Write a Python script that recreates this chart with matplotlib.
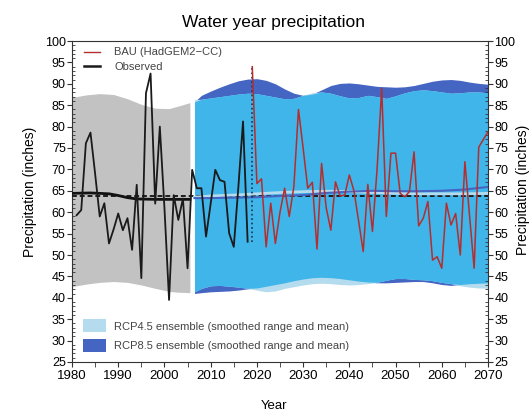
import matplotlib.pyplot as plt
from matplotlib.lines import Line2D
from matplotlib.patches import Patch
from matplotlib.ticker import MultipleLocator
import numpy as np

plt.rcParams['font.family'] = ['Liberation Sans', 'DejaVu Sans']

# Observed water year precipitation (inches)
obs_years = list(range(1981, 2019))
obs_precip = [59.3, 60.5, 76.1, 78.6, 69.0, 59.0, 62.1, 52.7, 56.0, 59.7,
              55.8, 58.6, 51.2, 66.4, 44.6, 87.8, 92.4, 62.0, 80.0, 61.0,
              39.5, 64.0, 58.2, 63.2, 46.9, 69.9, 65.6, 65.6, 54.3, 62.0,
              69.9, 67.5, 67.1, 55.1, 51.9, 66.0, 81.2, 53.1]

# Smoothed observed mean
obs_mean_years = [1980, 1984, 1988, 1990, 1992, 1994, 1998, 2002, 2005.5]
obs_mean = [64.4, 64.5, 64.3, 63.9, 63.4, 63.1, 63.0, 63.0, 63.0]

# Range over the historical period (gray band)
hist_years = [1980, 1983, 1986, 1989, 1992, 1995, 1998, 2001, 2003, 2005.5]
hist_upper = [86.8, 87.4, 87.7, 87.5, 86.5, 85.2, 84.3, 84.2, 84.8, 85.6]
hist_lower = [42.6, 43.2, 43.6, 43.8, 43.6, 43.0, 42.2, 41.5, 41.3, 41.2]

# BAU run (HadGEM2-CC)
bau_years = list(range(2019, 2071))
bau_precip = [94.0, 66.7, 67.8, 51.9, 62.1, 52.7, 60.0, 65.6, 59.0, 66.0, 84.0,
              75.0, 65.6, 67.0, 51.4, 71.4, 61.0, 55.8, 67.1, 63.8, 64.0,
              68.7, 65.0, 58.0, 50.8, 66.5, 55.5, 70.0, 88.9, 59.0, 73.8,
              73.8, 64.4, 63.6, 64.8, 74.1, 56.8, 58.6, 62.5, 48.8, 49.6,
              46.9, 62.1, 57.0, 59.7, 50.0, 71.8, 59.3, 46.9, 75.2, 77.0, 78.8]

# Ensemble ranges (smoothed)
proj_years = [2006.5] + list(range(2008, 2071, 2))
rcp85_upper = [85.8, 87.3, 88.3, 89.2, 90.0, 90.7, 91.1, 91.2, 90.8, 90.0, 88.8,
               87.8, 87.3, 87.6, 88.6, 89.6, 90.1, 90.2, 90.0, 89.7, 89.4,
               89.3, 89.2, 89.3, 89.6, 90.1, 90.6, 90.9, 91.0, 90.8, 90.4,
               90.1, 89.9]
rcp45_upper = [86.3, 86.4, 86.7, 87.0, 87.3, 87.6, 87.8, 87.7, 87.3, 86.9, 86.5,
               86.6, 87.3, 87.9, 88.1, 87.8, 87.2, 86.7, 86.8, 87.3, 87.0,
               86.6, 87.2, 87.9, 88.4, 88.6, 88.4, 88.1, 87.8, 87.9, 88.1,
               88.1, 87.9]
rcp85_lower = [41.0, 41.2, 41.4, 41.5, 41.6, 41.8, 42.1, 42.3, 42.7, 43.1, 43.5,
               44.0, 44.4, 44.7, 44.8, 44.7, 44.5, 44.2, 43.9, 43.7, 43.5,
               43.5, 43.6, 43.7, 43.8, 43.8, 43.5, 43.1, 42.9, 43.1, 43.3,
               43.4, 43.5]
rcp45_lower = [41.4, 42.2, 42.8, 42.9, 42.7, 42.5, 42.2, 41.8, 41.4, 41.6, 42.2,
               42.6, 43.0, 43.3, 43.4, 43.3, 43.1, 43.0, 43.1, 43.3, 43.6,
               44.1, 44.5, 44.5, 44.3, 44.2, 44.0, 43.6, 43.3, 42.8, 42.5,
               42.3, 42.2]

# Ensemble means
mean_years = [2006.5, 2010, 2015, 2020, 2025, 2030, 2035, 2040, 2045, 2050,
              2055, 2060, 2065, 2070]
rcp45_mean = [63.5, 63.8, 64.0, 64.3, 64.6, 64.8, 64.9, 64.8, 64.6, 64.4,
              64.3, 64.3, 64.3, 64.4]
rcp85_mean = [63.3, 63.3, 63.4, 63.5, 63.8, 64.0, 64.5, 64.8, 65.0, 64.9,
              64.9, 65.0, 65.3, 65.9]

long_term_mean = 63.8

# Colores
gray = '#c2c2c2'
light = '#b4dbee'
dark = '#4565c3'
bright = '#3fb5e9'
red = '#b52e2e'

fig = plt.figure(figsize=(5.31, 4.12), dpi=100)
ax = fig.add_axes([72 / 531, 50 / 412, 416 / 531, 321 / 412])

# Bands
ax.fill_between(hist_years, hist_lower, hist_upper, color=gray, lw=0)
ax.fill_between(proj_years, rcp85_lower, rcp85_upper, color=dark, lw=0)
ax.fill_between(proj_years, rcp45_lower, rcp45_upper, color=light, lw=0)
ax.fill_between(proj_years, np.maximum(rcp45_lower, rcp85_lower),
                np.minimum(rcp45_upper, rcp85_upper), color=bright, lw=0)

# Means
ax.axhline(long_term_mean, color='#1c1c1c', lw=1.4, ls=(0, (2.5, 1.5)), zorder=3)
ax.plot(mean_years, rcp45_mean, color=light, lw=2, zorder=3)
ax.plot(mean_years, rcp85_mean, color=dark, lw=1.5, zorder=3)
ax.plot(obs_mean_years, obs_mean, color='#111111', lw=2, zorder=4)

# Series
ax.plot(obs_years, obs_precip, color='#1a1a1a', lw=1.3, zorder=5)
ax.vlines(bau_years[0], obs_precip[-1], bau_precip[0], colors='#1a3550',
          linestyles=':', lw=1.2, zorder=5)
ax.plot(bau_years, bau_precip, color=red, lw=1.1, zorder=6)

ax.set_xlim(1980, 2070)
ax.set_ylim(25, 100)

# Ticks
ax.xaxis.set_major_locator(MultipleLocator(10))
ax.xaxis.set_minor_locator(MultipleLocator(5))
ax.yaxis.set_major_locator(MultipleLocator(5))
ax.yaxis.set_minor_locator(MultipleLocator(1))
ax.tick_params(axis='y', which='both', left=True, right=True,
               labelleft=True, labelright=True)
ax.tick_params(axis='y', which='major', direction='out', length=3.5,
               labelsize=9, pad=1, color='#333333')
ax.tick_params(axis='y', which='minor', direction='in', length=2.5,
               color='#333333')
ax.tick_params(axis='x', which='both', direction='out', length=3.5,
               labelsize=9.5, pad=2, color='#333333')
for s in ax.spines.values():
    s.set_color('#333333')

# Labels
fig.text(274 / 531, 1 - 22.7 / 412, 'Water year precipitation', fontsize=12.5,
         ha='center', va='center')
ax.set_xlabel('Year', fontsize=9.5)
ax.xaxis.set_label_coords(0.486, -0.118)
ax.set_ylabel('Precipitation (inches)', fontsize=10)
ax.yaxis.set_label_coords(-0.084, 0.53)
fig.text(530 / 531, 0.54, 'Precipitation (inches)', fontsize=10,
         rotation=90, ha='right', va='center')

# Legends
leg1 = ax.legend([Line2D([], [], color=red, lw=1),
                  Line2D([], [], color='#1a1a1a', lw=1.8)],
                 ['BAU (HadGEM2\u2212CC)', 'Observed'],
                 loc='upper left', bbox_to_anchor=(0.03, 0.98),
                 frameon=False, fontsize=8, labelcolor='#444444',
                 handlelength=1.4, handletextpad=1.3, labelspacing=0.42,
                 borderpad=0, borderaxespad=0)
ax.add_artist(leg1)
ax.legend([Patch(facecolor=light), Patch(facecolor=dark)],
          ['RCP4.5 ensemble (smoothed range and mean)',
           'RCP8.5 ensemble (smoothed range and mean)'],
          loc='lower left', bbox_to_anchor=(0.0265, 0.031),
          frameon=False, fontsize=8, labelcolor='#444444',
          handlelength=2.07, handleheight=1.44, handletextpad=0.72,
          labelspacing=0.58, borderpad=0, borderaxespad=0)

plt.savefig('out.png', dpi=100)
